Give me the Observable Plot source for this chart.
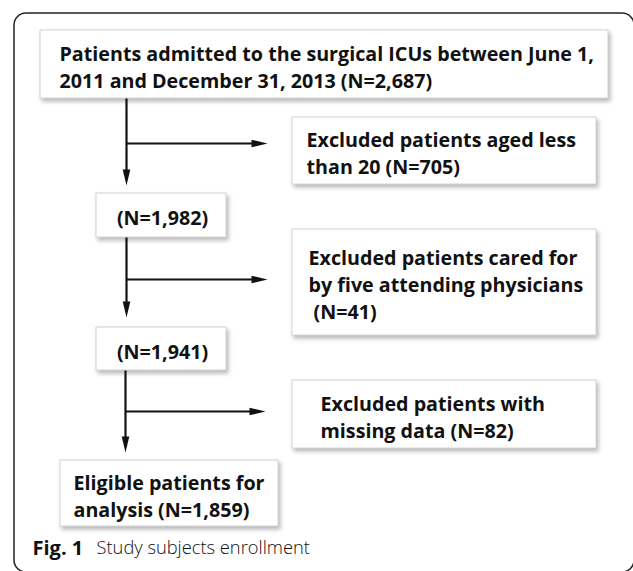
<!DOCTYPE html>
<html>
<head>
<meta charset="utf-8">
<script src="https://cdn.jsdelivr.net/npm/d3@7"></script>
<script src="https://cdn.jsdelivr.net/npm/@observablehq/plot@0.6"></script>
<style>
  body { margin: 0; background: #fff; }
  #chart svg text { white-space: pre; }
</style>
</head>
<body>
<div id="chart"></div>
<script>
// ---- data: flowchart content ----
const mainSteps = [
  "Patients admitted to the surgical ICUs between June 1,\n2011 and December 31, 2013 (N=2,687)",
  "(N=1,982)",
  "(N=1,941)",
  "Eligible patients for\nanalysis (N=1,859)"
];
const exclusions = [
  "Excluded patients aged less\nthan 20 (N=705)",
  "Excluded patients cared for\nby five attending physicians\n (N=41)",
  "Excluded patients with\nmissing data (N=82)"
];
const captionBold = "Fig. 1";
const captionText = "Study subjects enrollment";

// ---- layout (positions in pixel space of the figure) ----
const mainLayout = [
  {x1: 40, x2: 608, y1: 30, y2: 98, tx: 59, centered: false},
  {x1: 96, x2: 226, y1: 193, y2: 237, tx: 162, centered: true},
  {x1: 96, x2: 226, y1: 327, y2: 370, tx: 162, centered: true},
  {x1: 60, x2: 278, y1: 460, y2: 526, tx: 73, centered: false}
];
const exclLayout = [
  {x1: 292, x2: 596, y1: 117, y2: 184, tx: 306, centered: false},
  {x1: 292, x2: 596, y1: 229, y2: 335, tx: 308, centered: false},
  {x1: 292, x2: 596, y1: 380, y2: 448, tx: 320, centered: false}
];
const trunkX = [126, 126, 125];
const branchY = [143, 279, 411];
const branchTipX = [267, 267, 265];
const downTipY = [185, 317, 452];

const boxes = [
  ...mainSteps.map((t, i) => ({text: t, ...mainLayout[i]})),
  ...exclusions.map((t, i) => ({text: t, ...exclLayout[i]}))
];

// shafts: vertical trunk segments and horizontal branches
const shafts = [];
const heads = [];
for (let i = 0; i < 3; i++) {
  const top = mainLayout[i].y2;
  shafts.push({x1: trunkX[i], y1: top, x2: trunkX[i], y2: downTipY[i] - 8});
  shafts.push({x1: trunkX[i], y1: branchY[i], x2: branchTipX[i] - 8, y2: branchY[i]});
  heads.push({x: trunkX[i], y: downTipY[i], rot: 90});
  heads.push({x: branchTipX[i], y: branchY[i], rot: 0});
}

// narrow filled arrowhead, tip at the dot position, pointing +x
const arrowHead = {
  draw(ctx) {
    ctx.moveTo(0, 0);
    ctx.lineTo(-16, -3.8);
    ctx.lineTo(-16, 3.8);
    ctx.closePath();
  }
};

const font = "'Open Sans', 'Noto Sans', sans-serif";
const textOpts = {
  x: "tx", y: d => (d.y1 + d.y2) / 2 + 1, text: "text",
  lineAnchor: "middle", lineHeight: 1.38,
  fontSize: 19.7, fontWeight: 700, fill: "#111", fontFamily: font
};

const chart = Plot.plot({
  width: 633,
  height: 571,
  margin: 0,
  x: {domain: [0, 633], axis: null},
  y: {domain: [0, 571], reverse: true, axis: null},
  style: {background: "#fff", fontFamily: font},
  marks: [
    // outer frame
    Plot.rect([{x1: 14, x2: 634, y1: 13, y2: 572}], {
      x1: "x1", x2: "x2", y1: "y1", y2: "y2",
      rx: 12, fill: "none", stroke: "#222", strokeWidth: 1.5
    }),
    // boxes
    Plot.rect(boxes, {
      x1: "x1", x2: "x2", y1: "y1", y2: "y2",
      fill: "#fff", stroke: "#d4d4d4", strokeWidth: 1
    }),
    // arrow shafts
    Plot.link(shafts, {
      x1: "x1", y1: "y1", x2: "x2", y2: "y2",
      stroke: "#111", strokeWidth: 2.2
    }),
    // arrow heads
    Plot.dot(heads, {
      x: "x", y: "y", rotate: "rot", symbol: arrowHead,
      fill: "#111", stroke: null
    }),
    // box texts
    Plot.text(boxes.filter(d => !d.centered), {...textOpts, textAnchor: "start"}),
    Plot.text(boxes.filter(d => d.centered), {...textOpts, textAnchor: "middle"}),
    // caption
    Plot.text([captionBold], {
      x: 32, y: 548, text: d => d, textAnchor: "start", lineAnchor: "middle",
      fontSize: 20, fontWeight: 700, fill: "#111", fontFamily: font
    }),
    Plot.text([captionText], {
      x: 96, y: 548, text: d => d, textAnchor: "start", lineAnchor: "middle",
      fontSize: 18.3, fontWeight: 300, fill: "#111", fontFamily: font
    })
  ]
});

// soft drop shadow under the boxes
const rectGroups = chart.querySelectorAll('g[aria-label="rect"]');
if (rectGroups[1]) rectGroups[1].style.filter = "drop-shadow(2px 3px 2px rgba(0,0,0,0.28))";

document.getElementById("chart").appendChild(chart);
</script>
</body>
</html>
